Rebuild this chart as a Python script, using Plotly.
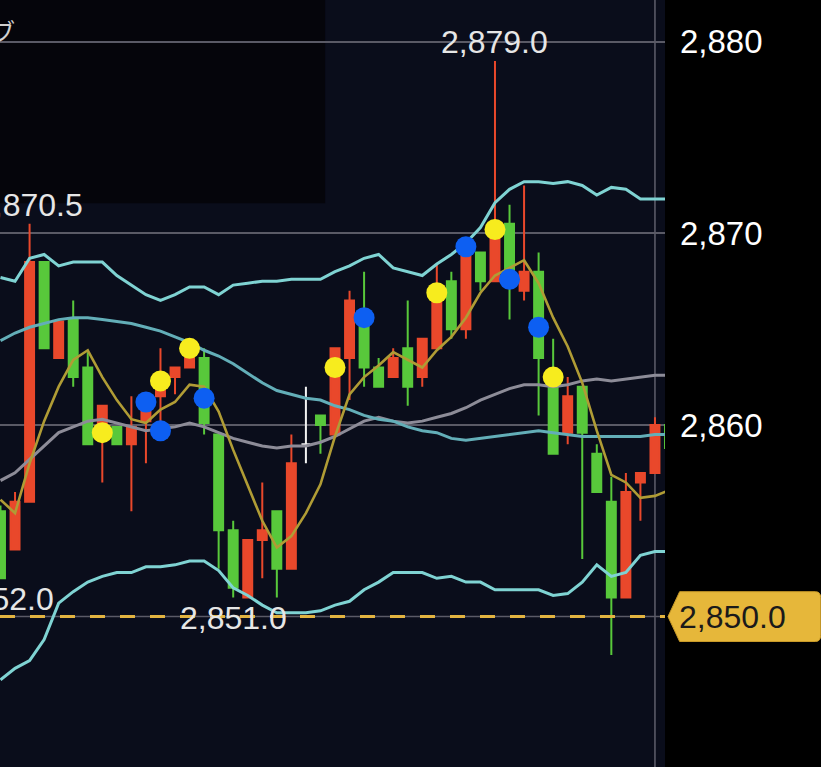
import plotly.graph_objects as go

# one slot per candle, left to right (x = slot number)
slots = list(range(47))

opens = [2855.5, 2853.5, 2856.0, 2868.5, 2863.5, 2865.5, 2863.0, 2859.6, 2859.9, 2859.0,
         2860.2, 2861.5, 2862.5, 2863.0, 2863.5, 2859.5, 2854.5, 2851.0, 2854.0, 2855.5,
         2852.5, 2859.0, 2860.5, 2859.5, 2863.5, 2865.5, 2863.0, 2862.5, 2864.0, 2862.5,
         2864.0, 2867.5, 2865.0, 2869.0, 2867.5, 2870.5, 2867.0, 2868.0, 2862.2, 2859.6,
         2862.0, 2858.5, 2856.0, 2851.0, 2857.0, 2857.5, 2860.0]
highs = [2855.8, 2856.5, 2870.5, 2868.5, 2865.4, 2866.5, 2863.8, 2861.0, 2859.9, 2861.5,
         2861.5, 2864.0, 2863.0, 2864.0, 2864.0, 2859.5, 2855.0, 2854.0, 2857.0, 2855.5,
         2859.5, 2862.0, 2860.5, 2864.0, 2867.0, 2868.0, 2863.5, 2864.0, 2866.5, 2864.5,
         2868.4, 2868.0, 2869.3, 2869.0, 2879.0, 2871.5, 2872.5, 2869.0, 2864.5, 2862.5,
         2862.0, 2859.0, 2857.3, 2857.5, 2857.5, 2860.4, 2861.0]
lows = [2852.0, 2853.5, 2856.0, 2864.0, 2863.5, 2862.0, 2859.0, 2857.0, 2859.0, 2855.5,
        2858.0, 2860.1, 2861.6, 2863.0, 2859.5, 2852.5, 2851.0, 2851.0, 2852.0, 2851.0,
        2852.5, 2858.0, 2858.5, 2859.5, 2861.3, 2862.0, 2862.0, 2862.5, 2861.0, 2862.0,
        2864.0, 2864.5, 2864.5, 2867.0, 2867.5, 2865.5, 2866.5, 2860.5, 2858.5, 2859.0,
        2853.0, 2856.5, 2848.0, 2851.0, 2855.0, 2857.5, 2858.5]
closes = [2852.0, 2856.0, 2868.5, 2864.0, 2865.4, 2862.5, 2859.0, 2861.0, 2859.0, 2859.9,
          2860.9, 2862.4, 2863.0, 2864.0, 2860.1, 2854.5, 2851.5, 2854.0, 2854.5, 2852.5,
          2858.0, 2859.0, 2860.0, 2864.0, 2866.5, 2863.0, 2862.0, 2863.5, 2862.0, 2864.5,
          2867.2, 2865.0, 2869.3, 2867.5, 2870.3, 2868.1, 2868.0, 2863.5, 2858.5, 2861.5,
          2859.6, 2856.5, 2851.0, 2856.5, 2857.5, 2860.0, 2858.8]

# slot drawn as a white cross (open == close)
doji_slot = 21

# bollinger bands
bb_upper = [2867.7, 2867.5, 2868.7, 2868.9, 2868.3, 2868.5, 2868.5, 2868.5, 2867.8, 2867.3,
            2866.8, 2866.5, 2866.8, 2867.2, 2867.2, 2866.8, 2867.3, 2867.4, 2867.5, 2867.5,
            2867.6, 2867.6, 2867.6, 2868.0, 2868.3, 2868.7, 2868.9, 2868.2, 2868.0, 2867.8,
            2868.4, 2868.9, 2869.5, 2870.3, 2871.6, 2872.3, 2872.7, 2872.7, 2872.6, 2872.7,
            2872.5, 2872.0, 2872.4, 2872.3, 2871.8, 2871.8, 2871.8]
bb_mid = [2864.4, 2864.8, 2865.1, 2865.3, 2865.5, 2865.6, 2865.6, 2865.5, 2865.4, 2865.3,
          2865.1, 2864.9, 2864.6, 2864.3, 2863.9, 2863.6, 2863.2, 2862.7, 2862.2, 2861.8,
          2861.6, 2861.4, 2861.3, 2861.0, 2860.8, 2860.5, 2860.3, 2860.2, 2859.9, 2859.7,
          2859.6, 2859.3, 2859.2, 2859.3, 2859.4, 2859.5, 2859.6, 2859.7, 2859.6, 2859.5,
          2859.4, 2859.4, 2859.4, 2859.4, 2859.4, 2859.5, 2859.5]
bb_lower = [2846.7, 2847.3, 2847.7, 2848.8, 2850.7, 2851.3, 2851.8, 2852.1, 2852.3, 2852.3,
            2852.6, 2852.6, 2852.7, 2852.9, 2852.9, 2852.4, 2851.5, 2851.1, 2850.6, 2850.2,
            2850.2, 2850.2, 2850.3, 2850.6, 2850.8, 2851.4, 2851.8, 2852.3, 2852.3, 2852.3,
            2852.0, 2852.1, 2851.8, 2851.8, 2851.4, 2851.4, 2851.4, 2851.4, 2851.1, 2851.2,
            2851.8, 2852.7, 2852.1, 2852.3, 2853.2, 2853.4, 2853.4]

# moving averages
ma_long = [2857.1, 2857.5, 2858.2, 2858.9, 2859.6, 2859.9, 2860.2, 2860.3, 2860.1, 2859.9,
           2859.7, 2859.8, 2859.9, 2860.1, 2859.9, 2859.6, 2859.3, 2859.1, 2858.9, 2858.8,
           2858.9, 2858.9, 2859.1, 2859.4, 2859.8, 2860.2, 2860.4, 2860.2, 2860.1, 2860.2,
           2860.4, 2860.6, 2860.9, 2861.3, 2861.6, 2861.9, 2862.1, 2862.1, 2862.0, 2862.1,
           2862.3, 2862.4, 2862.3, 2862.4, 2862.5, 2862.6, 2862.6]
ma_short = [2856.1, 2855.4, 2858.0, 2860.2, 2862.0, 2863.4, 2863.9, 2862.5, 2861.3, 2860.3,
            2860.1, 2860.8, 2861.2, 2862.1, 2862.0, 2860.7, 2858.7, 2856.8, 2855.0, 2853.6,
            2854.2, 2855.4, 2856.9, 2859.4, 2861.6, 2862.5, 2863.1, 2863.8, 2863.4, 2863.0,
            2863.9, 2864.6, 2865.6, 2866.9, 2867.8, 2868.2, 2868.6, 2867.4, 2865.6, 2864.1,
            2862.2, 2859.7, 2857.4, 2857.0, 2856.2, 2856.3, 2856.6]

# signal dots
yellow_slots = [7, 11, 13, 23, 30, 34, 38]
yellow_prices = [2859.6, 2862.3, 2864.0, 2863.0, 2866.9, 2870.2, 2862.5]
blue_slots = [10, 11, 14, 25, 32, 35, 37]
blue_prices = [2861.2, 2859.7, 2861.4, 2865.6, 2869.3, 2867.6, 2865.1]

# price labels on highs / lows
high_marks = [2, 34]
low_marks = [0, 16]

current_price = 2850.0
y_ticks = [2860, 2870, 2880]

UP = "#e9482b"
DOWN = "#58c83b"
FONT = "Liberation Sans, Arial, sans-serif"
GRID = "#5a5a66"

keep = [i for i in slots if i != doji_slot]

fig = go.Figure()

fig.add_trace(go.Candlestick(
    x=keep,
    open=[opens[i] for i in keep],
    high=[highs[i] for i in keep],
    low=[lows[i] for i in keep],
    close=[closes[i] for i in keep],
    increasing=dict(line=dict(color=UP, width=2), fillcolor=UP),
    decreasing=dict(line=dict(color=DOWN, width=2), fillcolor=DOWN),
    hoverinfo="skip",
))
fig.add_trace(go.Candlestick(
    x=[doji_slot],
    open=[opens[doji_slot]], high=[highs[doji_slot]],
    low=[lows[doji_slot]], close=[closes[doji_slot]],
    increasing=dict(line=dict(color="#f2f2f2", width=2), fillcolor="#f2f2f2"),
    decreasing=dict(line=dict(color="#f2f2f2", width=2), fillcolor="#f2f2f2"),
    hoverinfo="skip",
))

for vals, col, w in [(ma_long, "#8d8c98", 3),
                     (bb_mid, "#63aeb8", 3),
                     (bb_upper, "#7fd3d3", 3),
                     (bb_lower, "#7fd3d3", 3),
                     (ma_short, "#b09c35", 2.6)]:
    fig.add_trace(go.Scatter(x=slots, y=vals, mode="lines",
                             line=dict(color=col, width=w), hoverinfo="skip"))

fig.add_trace(go.Scatter(x=yellow_slots, y=yellow_prices, mode="markers",
                         marker=dict(color="#f7ec1e", size=21), hoverinfo="skip"))
fig.add_trace(go.Scatter(x=blue_slots, y=blue_prices, mode="markers",
                         marker=dict(color="#0d5ff2", size=21), hoverinfo="skip"))

annotations = []
for i in high_marks:
    annotations.append(dict(x=i, y=highs[i], xref="x", yref="y", text=f"{highs[i]:,.1f}",
                            showarrow=False, yshift=19, font=dict(size=32, color="#e6e6e6")))
for i in low_marks:
    annotations.append(dict(x=i, y=lows[i], xref="x", yref="y", text=f"{lows[i]:,.1f}",
                            showarrow=False, yshift=-21, font=dict(size=32, color="#e6e6e6")))

# price tag on the right axis
annotations.append(dict(x=1.0, y=current_price, xref="paper", yref="y", xanchor="left",
                        xshift=12, text=f"{current_price:,.1f}", showarrow=False,
                        font=dict(size=32, color="#1a1a1a")))
# cut-off caption in the top-left panel
annotations.append(dict(x=0, y=1, xref="paper", yref="paper", xanchor="right", yanchor="top",
                        xshift=17, yshift=-11, text="ブ", showarrow=False,
                        font=dict(size=24, color="#d0d0d0", family="Noto Sans CJK JP")))

tag_h = 1.3
shapes = [
    # dark panel top-left
    dict(type="rect", xref="x domain", yref="y domain", x0=0, x1=0.489, y0=0.735, y1=1,
         fillcolor="#05050b", line=dict(width=0), layer="below"),
    # latest-bar vertical line
    dict(type="line", xref="x", yref="y domain", x0=45, x1=45, y0=0, y1=1,
         line=dict(color="#5f5f6c", width=1.5), layer="below"),
    # grid line under the current price
    dict(type="line", xref="x domain", yref="y", x0=0, x1=1, y0=current_price, y1=current_price,
         line=dict(color=GRID, width=1.5), layer="below"),
    # current price dashed line
    dict(type="line", xref="x domain", yref="y", x0=0, x1=1, y0=current_price, y1=current_price,
         line=dict(color="#e2b340", width=3, dash="15px,15px"), layer="above"),
    # gold tag
    dict(type="path", xref="paper", yref="y", layer="above",
         path=(f"M 1.0045,{current_price} L 1.022,{current_price + tag_h} "
               f"L 1.226,{current_price + tag_h} Q 1.234,{current_price + tag_h} 1.234,{current_price + tag_h - 0.3} "
               f"L 1.234,{current_price - tag_h + 0.3} Q 1.234,{current_price - tag_h} 1.226,{current_price - tag_h} "
               f"L 1.022,{current_price - tag_h} Z"),
         fillcolor="#e6b73a", line=dict(color="#c99a28", width=1)),
]

fig.update_layout(
    width=821, height=767,
    margin=dict(l=0, r=156, t=0, b=0),
    paper_bgcolor="#000000",
    plot_bgcolor="#0a0d1b",
    showlegend=False,
    boxgap=0.12,
    font=dict(family=FONT, color="#ffffff"),
    annotations=annotations,
    shapes=shapes,
    xaxis=dict(range=[-0.034, 45.69], visible=False, rangeslider=dict(visible=False),
               fixedrange=True),
    yaxis=dict(range=[2842.15, 2882.18], side="right", tickvals=y_ticks, tickformat=",d",
               showgrid=True, gridcolor=GRID, gridwidth=1.5, zeroline=False,
               ticks="", ticklabelstandoff=14, tickfont=dict(size=33, color="#ffffff"),
               fixedrange=True),
)

fig.write_html("out.html", config={"displayModeBar": False},
               post_script="document.body.style.margin='0';")
